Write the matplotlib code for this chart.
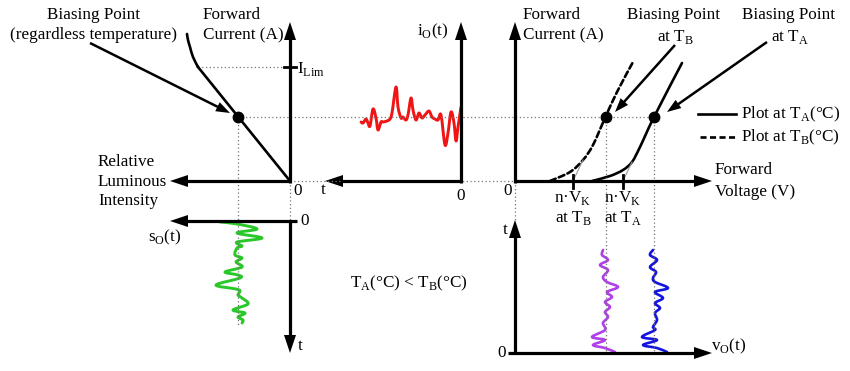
import matplotlib
matplotlib.use("Agg")
import matplotlib.pyplot as plt
from matplotlib.patches import Polygon, PathPatch
from matplotlib.path import Path
import numpy as np

plt.rcParams['font.family'] = ['Liberation Serif', 'DejaVu Serif']
plt.rcParams['font.size'] = 12.3

############### Data (pixels, relative to each panel origin) ###############
# LED: relative luminous intensity (leftwards) vs forward current (up)
lum_curve = [0, 92, 97, 100, 102, 103]
lum_curve_i = [0, 114, 124, 134, 141, 147]
i_lim = 114
i_bias = 64
lum_bias = 52

# diode I-V curves, T_A solid / T_B dashed
va = [77, 95, 108, 117, 125, 139, 167]
ia = [0, 5, 11, 19, 34, 64, 118]
vb = [35, 55, 68, 78, 90, 102, 118]
ib = [0, 9, 21, 36, 63, 89, 119]
vbias_a = 139
vbias_b = 91
vk_a = 108
vk_b = 58
tan_a = ([108, 117], [0, 19])
tan_b = ([58, 68], [0, 21])

# i_O(t): time leftwards, deviation from bias current
io_t = [0, 3, 5, 7, 10, 13, 16, 20, 23, 26, 29, 32, 36, 39, 42, 45, 48, 50, 53,
        55, 58, 60, 63, 65, 69, 71, 74, 78, 80, 83, 85, 88, 91, 93, 95, 98, 100]
io_dev = [10, -10, -24, -6, 5, -16, -28, 2, -3, -2, 0, 6, 2, -1, 4, -3, 7, 19, 2,
          -3, 0, -1, 10, 30, 4, -2, -4, -5, -5, -13, -1, 8, -9, -6, -2, -6, -5]

# s_O(t): time downwards, deviation of luminous intensity
so_t = [1, 3, 8, 12, 17, 21, 25, 27, 34, 37, 41, 46, 51, 54, 57, 64, 68, 70,
        74, 77, 83, 89, 92, 96, 99, 102]
so_dev = [18, 1, -19, 1, -24, 1, -4, 1, 3, -4, 2, -4, 13, 0, -2, 22, 2, -2,
          0, -4, -10, 5, -7, 0, -5, -4]

# v_O(t) at T_B (magenta) and T_A (blue): time upwards
vo_b_t = [1, 5, 8, 13, 16, 23, 30, 36, 41, 46, 51, 56, 61, 66, 71, 76, 83, 88, 93, 98, 103]
vo_b_dev = [9, -1, -13, -1, -14, -1, -3, 2, -1, 4, -1, 6, 1, 12, 1, -3, 2, -6, 2, -4, -3]
vo_a_t = [1, 5, 8, 13, 16, 23, 26, 33, 40, 45, 50, 55, 61, 65, 71, 75, 81, 86, 93, 98, 103]
vo_a_dev = [13, 3, -11, 3, -12, 1, -1, 3, 1, 6, 1, 9, 1, 14, 1, -1, 2, -4, 3, -4, -1]

############### Layout ###############
O_LUM = (290, 181)
O_IO = (461, 181)
O_IV = (515, 181)
O_SO = (290, 221)
O_VO = (515, 353)

fig = plt.figure(figsize=(8.5, 3.71), dpi=100)
ax = fig.add_axes([0, 0, 1, 1])
ax.set_xlim(0, 850)
ax.set_ylim(371, 0)
ax.axis('off')

DOT = dict(color='#777777', lw=0.9, ls=(0, (1, 2)))
DASH = (0, (2.3, 1.3))


def arrow(x0, y0, x1, y1, lw=2.3, hl=18, hw=12):
    d = np.hypot(x1 - x0, y1 - y0)
    ux, uy = (x1 - x0) / d, (y1 - y0) / d
    bx, by = x1 - ux * hl, y1 - uy * hl
    ax.plot([x0, bx + ux * 2], [y0, by + uy * 2], color='k', lw=lw,
            solid_capstyle='butt')
    px, py = -uy, ux
    ax.add_patch(Polygon([(x1, y1), (bx + px * hw / 2, by + py * hw / 2),
                          (bx - px * hw / 2, by - py * hw / 2)],
                         closed=True, color='k', lw=0))


def smooth(xs, ys, color='k', lw=1.9, ls='-'):
    # draw a smooth curve through the given points (Catmull-Rom as Bezier)
    p = np.column_stack([xs, ys]).astype(float)
    pts = np.vstack([p[0], p, p[-1]])
    verts = [p[0]]
    codes = [Path.MOVETO]
    for k in range(1, len(pts) - 2):
        p0, p1, p2, p3 = pts[k - 1], pts[k], pts[k + 1], pts[k + 2]
        verts += [p1 + (p2 - p0) / 6, p2 - (p3 - p1) / 6, p2]
        codes += [Path.CURVE4] * 3
    ax.add_patch(PathPatch(Path(verts, codes), fill=False, edgecolor=color,
                           lw=lw, ls=ls, capstyle='round', joinstyle='round'))


def txt(x, y, s, ha='left', **kw):
    ax.text(x, y, s, ha=ha, va='center', **kw)


# dotted guides
ybias = O_LUM[1] - i_bias
xb_lum = O_LUM[0] - lum_bias
xb_a = O_IV[0] + vbias_a
xb_b = O_IV[0] + vbias_b
ax.plot([O_LUM[0] - lum_curve[1], O_LUM[0]], [O_LUM[1] - i_lim] * 2, **DOT)
ax.plot([xb_lum, xb_a], [ybias, ybias], **DOT)
ax.plot([O_LUM[0], O_IV[0]], [O_LUM[1]] * 2, **DOT)
ax.plot([xb_lum, xb_lum], [ybias, O_SO[1] + 104], **DOT)
ax.plot([O_LUM[0], O_LUM[0]], [O_LUM[1], O_SO[1]], **DOT)
ax.plot([O_IV[0], O_IV[0]], [O_IV[1], 220], **DOT)
ax.plot([xb_b, xb_b], [ybias, O_VO[1]], **DOT)
ax.plot([xb_a, xb_a], [ybias, O_VO[1]], **DOT)

# ---- LED luminous panel ----
arrow(O_LUM[0], O_LUM[1] + 2, O_LUM[0], 22)
arrow(O_LUM[0], O_LUM[1], 170, O_LUM[1])
ax.plot([O_LUM[0] - 6, O_LUM[0] + 6], [O_LUM[1] - i_lim] * 2, color='k', lw=2)
ax.plot([O_LUM[0] - x for x in lum_curve[:2]], [O_LUM[1] - i for i in lum_curve_i[:2]],
        color='k', lw=1.9)
smooth([O_LUM[0] - x for x in lum_curve[1:]], [O_LUM[1] - i for i in lum_curve_i[1:]])
ax.plot(xb_lum, ybias, 'o', color='k', ms=7.5)
arrow(90, 43, 230, 113, lw=1.8, hl=14, hw=10)
txt(94, 15, 'Biasing Point', ha='center')
txt(94, 35, '(regardless temperature)', ha='center')
txt(203, 15, 'Forward')
txt(203, 35, 'Current (A)')
txt(297, 69, r'I$_\mathregular{Lim}$')
txt(98, 162, 'Relative')
txt(98, 182, 'Luminous')
txt(98, 201, 'Intensity')
txt(298, 191, '0', ha='center')

# ---- i_O(t) panel ----
arrow(O_IO[0], O_IO[1] + 2, O_IO[0], 22)
arrow(O_IO[0], O_IO[1], 325, O_IO[1])
smooth([O_IO[0] - t for t in io_t], [ybias - d for d in io_dev], color='#f01414', lw=2.1)
txt(433, 31, r'i$_\mathregular{O}$(t)', ha='center')
txt(323, 190, 't', ha='center')
txt(461, 196, '0', ha='center')

# ---- diode I-V panel ----
arrow(O_IV[0], O_IV[1] + 2, O_IV[0], 22)
arrow(O_IV[0], O_IV[1], 712, O_IV[1])
for v, i in (tan_a, tan_b):
    ax.plot([O_IV[0] + x for x in v], [O_IV[1] - y for y in i], color='#999999', lw=0.8)
smooth([O_IV[0] + v for v in va], [O_IV[1] - i for i in ia])
smooth([O_IV[0] + v for v in vb], [O_IV[1] - i for i in ib], ls=DASH)
for vk in (vk_a, vk_b):
    ax.plot([O_IV[0] + vk] * 2, [O_IV[1] - 6, O_IV[1] + 7], color='k', lw=2)
ax.plot([xb_b, xb_a], [ybias, ybias], 'o', color='k', ms=7.5)
arrow(675, 45, 615, 112, lw=1.8, hl=14, hw=10)
arrow(767, 42, 667, 112, lw=1.8, hl=14, hw=10)
txt(523, 15, 'Forward')
txt(523, 35, 'Current (A)')
txt(508, 191, '0', ha='center')
txt(674, 15, 'Biasing Point', ha='center')
txt(675, 37, r'at T$_\mathregular{B}$', ha='center')
txt(789, 15, 'Biasing Point', ha='center')
txt(790, 37, r'at T$_\mathregular{A}$', ha='center')
ax.plot([698, 736], [114, 114], color='k', lw=1.9)
ax.plot([700, 736], [137, 137], color='k', lw=1.9, ls=DASH)
txt(741, 114, r'Plot at T$_\mathregular{A}$(°C)')
txt(741, 137, r'Plot at T$_\mathregular{B}$(°C)')
txt(715, 170, 'Forward')
txt(715, 192, 'Voltage (V)')
txt(O_IV[0] + vk_b, 198, r'n·V$_\mathregular{K}$', ha='center')
txt(O_IV[0] + vk_b, 218, r'at T$_\mathregular{B}$', ha='center')
txt(O_IV[0] + vk_a, 198, r'n·V$_\mathregular{K}$', ha='center')
txt(O_IV[0] + vk_a, 218, r'at T$_\mathregular{A}$', ha='center')

# ---- s_O(t) panel ----
arrow(O_SO[0] + 7, O_SO[1], 170, O_SO[1])
arrow(O_SO[0], O_SO[1], O_SO[0], 353)
smooth([xb_lum - d for d in so_dev], [O_SO[1] + t for t in so_t], color='#28c828', lw=2.1)
txt(305, 221, '0', ha='center')
txt(165, 237, r's$_\mathregular{O}$(t)', ha='center')
txt(300, 346, 't', ha='center')
txt(409, 283, r'T$_\mathregular{A}$(°C) < T$_\mathregular{B}$(°C)', ha='center')

# ---- v_O(t) panel ----
arrow(O_VO[0], O_VO[1], O_VO[0], 220)
arrow(O_VO[0] - 7, O_VO[1], 712, O_VO[1])
smooth([xb_b + d for d in vo_b_dev], [O_VO[1] - t for t in vo_b_t], color='#b040e8')
smooth([xb_a + d for d in vo_a_dev], [O_VO[1] - t for t in vo_a_t], color='#1414e0')
txt(505, 230, 't', ha='center')
txt(502, 353, '0', ha='center')
txt(711, 346, r'v$_\mathregular{O}$(t)')

fig.savefig('out.png', dpi=100)
